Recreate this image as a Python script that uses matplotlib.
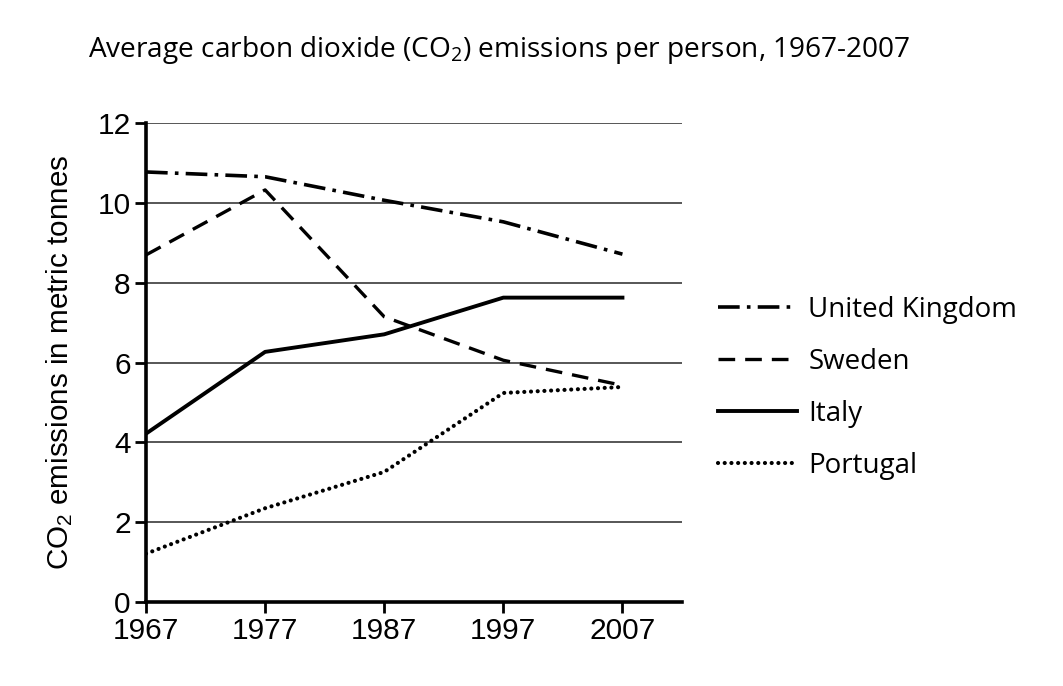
import matplotlib
matplotlib.use("Agg")
import matplotlib.pyplot as plt

years = [1967, 1977, 1987, 1997, 2007]
uk = [10.78, 10.66, 10.07, 9.53, 8.72]
sweden = [8.70, 10.33, 7.15, 6.06, 5.43]
italy = [4.22, 6.27, 6.71, 7.63, 7.63]
portugal = [1.21, 2.35, 3.26, 5.24, 5.39]
series_names = ["United Kingdom", "Sweden", "Italy", "Portugal"]
yticks = [0, 2, 4, 6, 8, 10, 12]

tick_font = "Liberation Sans"
text_font = "Open Sans"

fig = plt.figure(figsize=(10.63, 6.86), dpi=100)
ax = fig.add_axes([146/1063, 1-602/686, (682-146)/1063, (602-123.3)/686])

ax.plot(years, uk, color="black", lw=2.6, linestyle=(0, (6, 2, 1, 2)), label=series_names[0])
ax.plot(years, sweden, color="black", lw=2.4, linestyle=(0, (5, 3)), label=series_names[1])
ax.plot(years, italy, color="black", lw=2.8, linestyle="-", label=series_names[2])
ax.plot(years, portugal, color="black", lw=3.0, linestyle=(0, (0.01, 1.6)),
        dash_capstyle="round", label=series_names[3])

ax.set_xlim(1967, 2012)
ax.set_ylim(0, 12)
ax.set_xticks(years)
ax.set_yticks(yticks)
for y in yticks[1:]:
    ax.axhline(y, color="#3a3a3a", lw=1.2, zorder=0)

for s in ["top", "right"]:
    ax.spines[s].set_visible(False)
ax.spines["left"].set_linewidth(2.6)
ax.spines["bottom"].set_linewidth(2.6)
ax.tick_params(axis="both", direction="out", length=8, width=2, labelsize=21.5, pad=3)
for lab in ax.get_xticklabels() + ax.get_yticklabels():
    lab.set_fontfamily(tick_font)

ax.set_ylabel(r"$\mathregular{CO_2}$ emissions in metric tonnes", fontsize=21.3,
              fontfamily=tick_font, labelpad=16)

fig.text(88/1063, 1-50/686, r"Average carbon dioxide ($\mathregular{CO_2}$) emissions per person, 1967-2007",
         fontsize=20.2, fontfamily=text_font, ha="left", va="center")

leg = ax.legend(loc="center left", bbox_to_anchor=(693/1063, 1-388/686),
                bbox_transform=fig.transFigure, frameon=False,
                prop={"family": text_font, "size": 20}, handlelength=2.85,
                handletextpad=0.4, labelspacing=0.86)

fig.savefig("out.png", dpi=100, facecolor="white")
